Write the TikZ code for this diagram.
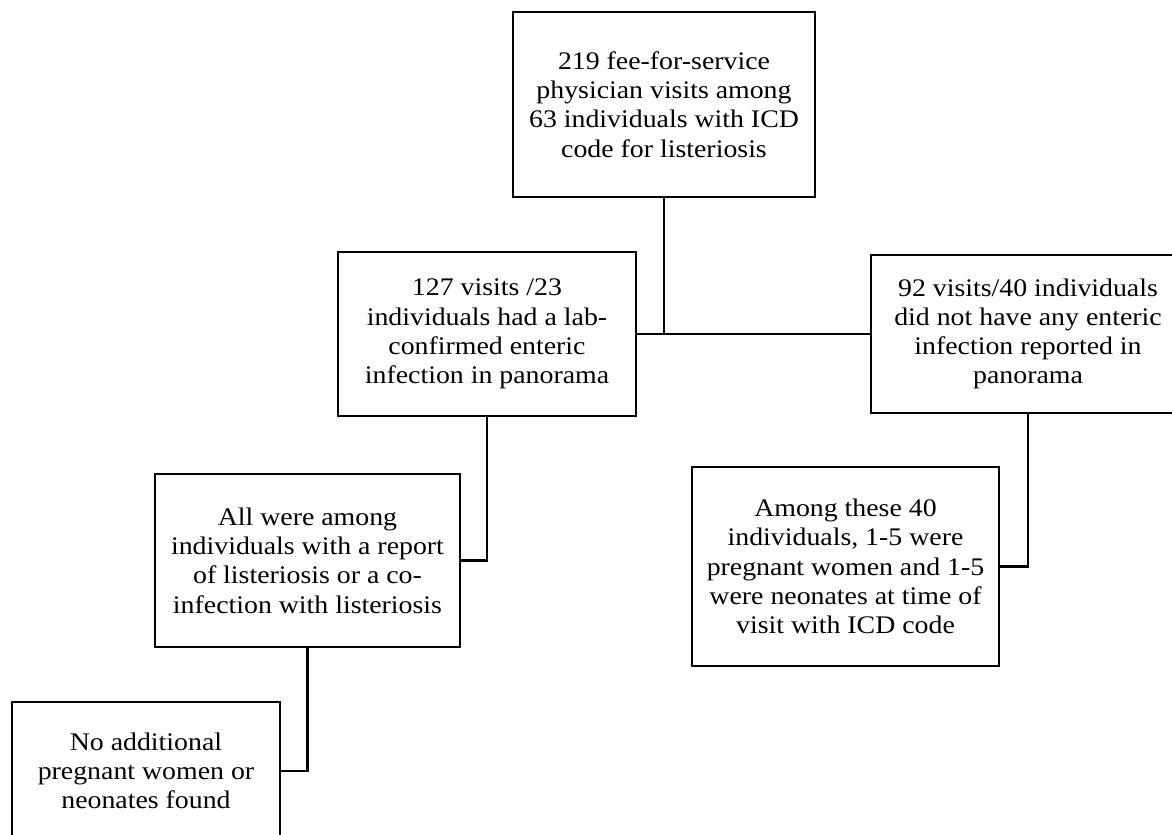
\documentclass[tikz,border=0pt]{standalone}
\usepackage{fontspec}
\setmainfont{Liberation Serif}[FakeStretch=1.1]
\usepackage{tikz}

\begin{document}
\begin{tikzpicture}[flowbox/.style={draw, line width=1.9pt, align=center, inner sep=0pt, font=\fontsize{18}{20.8}\selectfont},
                    link/.style={line width=1.9pt}]
     \useasboundingbox (0,0) rectangle (29.3,20.875);
     \clip (0,0) rectangle (29.3,20.875);
     \node [flowbox, minimum width=7.55cm, minimum height=4.625cm] (top) at (16.6,18.2625) {219 fee-for-service\\physician visits among\\63 individuals with ICD\\code for listeriosis};
     \node [flowbox, minimum width=7.45cm, minimum height=4.1cm] (midl) at (12.175,12.525) {127 visits /23\\individuals had a lab-\\confirmed enteric\\infection in panorama};
     \node [flowbox, minimum width=7.85cm, minimum height=3.95cm] (midr) at (25.7,12.525) {92 visits/40 individuals\\did not have any enteric\\infection reported in\\panorama};
     \node [flowbox, minimum width=7.625cm, minimum height=4.325cm] (lowl) at (7.6875,6.8625) {All were among\\individuals with a report\\of listeriosis or a co-\\infection with listeriosis};
     \node [flowbox, minimum width=7.675cm, minimum height=4.975cm] (lowr) at (21.1375,6.7125) {Among these 40\\individuals, 1-5 were\\pregnant women and 1-5\\were neonates at time of\\visit with ICD code};
     \node [flowbox, minimum width=6.7cm, minimum height=3.45cm] (bot) at (3.65,1.6) {No additional\\pregnant women or\\neonates found};
     \draw [link] (top.south) -- (top.south |- midr.west);
     \draw [link] (midl.east) -- (midr.west);
     \draw [link] (midl.south) |- (lowl.east);
     \draw [link] (midr.south) |- (lowr.east);
     \draw [link] (lowl.south) |- (bot.east);
\end{tikzpicture}
\end{document}
